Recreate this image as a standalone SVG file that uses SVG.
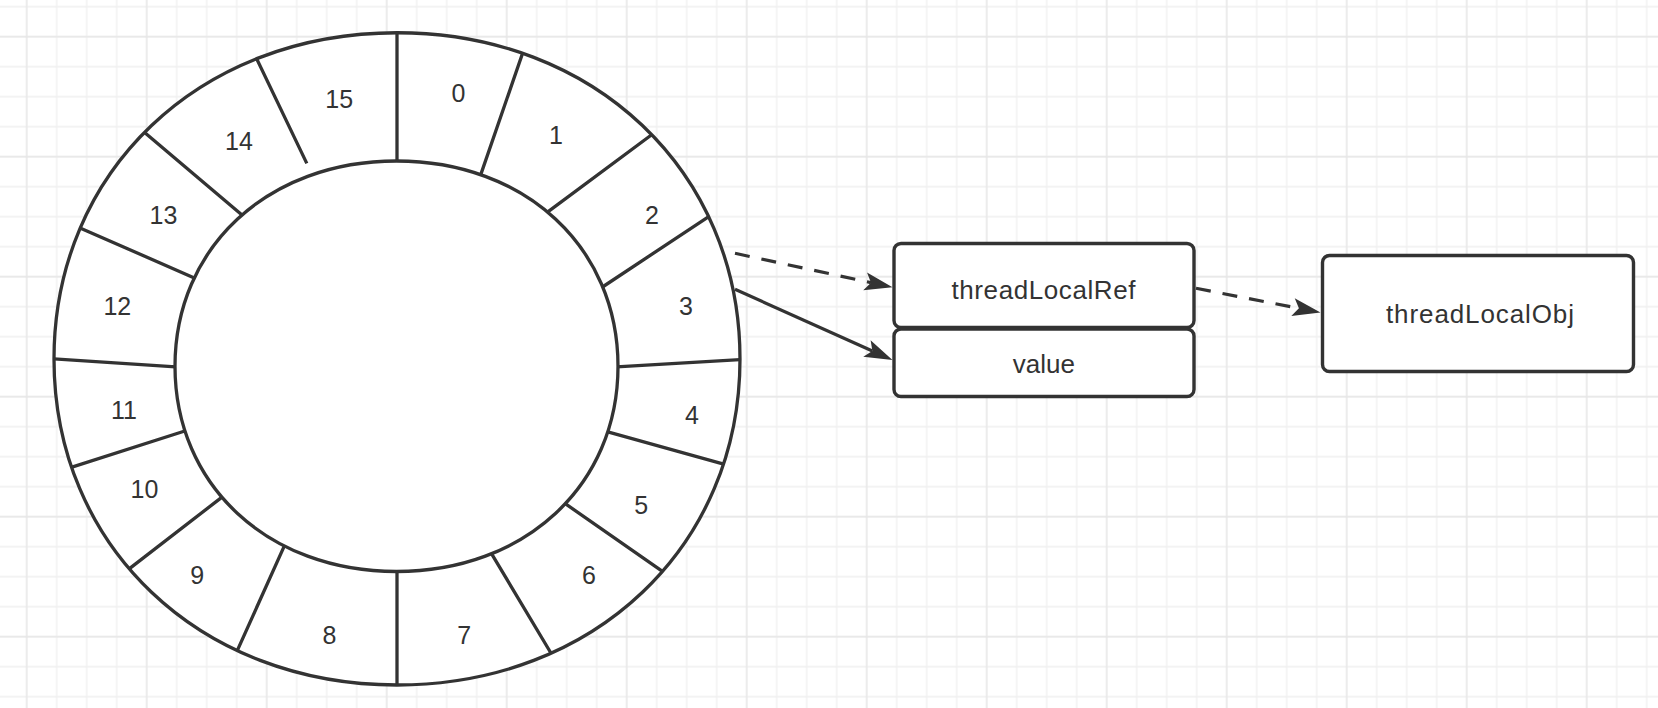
<svg xmlns="http://www.w3.org/2000/svg" width="1658" height="708" viewBox="0 0 1658 708">
<style>
.ln{fill:none;stroke:#333333;stroke-width:3.3;stroke-linecap:butt}
.shape{fill:#ffffff;stroke:#333333;stroke-width:3.3}
.num{font-family:"Liberation Sans",Arial,Helvetica,sans-serif;font-size:25px;fill:#333333;text-anchor:middle}
.lbl{font-family:"Liberation Sans",Arial,Helvetica,sans-serif;font-size:26px;fill:#333333;text-anchor:middle}
.box{fill:#ffffff;stroke:#333333;stroke-width:3.4}
.con{fill:none;stroke:#333333;stroke-width:3.2}
.dash{stroke-dasharray:15 12}
</style>
<defs>
<pattern id="grid" patternUnits="userSpaceOnUse" x="11.7" y="21.7" width="120" height="120">
<path d="M15 0V120M45 0V120M75 0V120M105 0V120M0 15H120M0 45H120M0 75H120M0 105H120" stroke="#f0f0f0" stroke-width="1.3" fill="none"/>
<path d="M15 0V120M0 15H120" stroke="#e6e6e6" stroke-width="1.3" fill="none"/>
</pattern>
<marker id="arrow" markerUnits="userSpaceOnUse" orient="auto" markerWidth="40" markerHeight="40" refX="0" refY="0" viewBox="-10 -20 40 40" overflow="visible">
<path d="M22,0 L-6,-9 L0,0 L-6,9 Z" fill="#333333" stroke="none"/>
</marker>
<clipPath id="outerClip">
<path d="M397,32.75 C594.2,32.75 740,171.4 740,358.9 C740,546.4 594.2,685 397,685 C199.8,685 54,546.4 54,358.9 C54,171.4 199.8,32.75 397,32.75 Z"/>
</clipPath>
</defs>
<rect x="0" y="0" width="1658" height="708" fill="#ffffff"/>
<rect x="0" y="0" width="1658" height="708" fill="url(#grid)"/>

<g id="ring">
<path d="M397,32.75 C594.2,32.75 740,171.4 740,358.9 C740,546.4 594.2,685 397,685 C199.8,685 54,546.4 54,358.9 C54,171.4 199.8,32.75 397,32.75 Z" fill="#ffffff" stroke="none"/>
<g clip-path="url(#outerClip)">
<path class="ln" d="M397,25 L397,164
M524.6,47.4 L479.9,177.1
M658.4,129.7 L546.8,212.6
M714.4,212.8 L602.5,287
M744.8,359.3 L616.5,366.8
M730,465.8 L606.9,431.7
M670.7,577.1 L565.6,503.9
M553.3,657 L491.5,553.6
M397,568 L397,693
M234.2,657.4 L284.8,544.9
M124.6,572.4 L222,497.1
M65.7,469.1 L185.6,430.8
M47,358.5 L175.7,366.9
M73.7,225.2 L196.6,278.9
M139.3,128 L243.2,215.9
M253.4,51.9 L306.8,163.4"/>
</g>
<path class="shape" d="M396.5,161 C525,161 618,247.25 618,366.25 C618,485.25 525,571.5 396.5,571.5 C268,571.5 175,485.25 175,366.25 C175,247.25 268,161 396.5,161 Z"/>
<path class="ln" d="M397,32.75 C594.2,32.75 740,171.4 740,358.9 C740,546.4 594.2,685 397,685 C199.8,685 54,546.4 54,358.9 C54,171.4 199.8,32.75 397,32.75 Z"/>
<text class="num" x="458.5" y="101.5">0</text>
<text class="num" x="556" y="144.4">1</text>
<text class="num" x="652" y="224.4">2</text>
<text class="num" x="686" y="314.6">3</text>
<text class="num" x="692" y="424.3">4</text>
<text class="num" x="641.3" y="513.7">5</text>
<text class="num" x="589" y="583.7">6</text>
<text class="num" x="464.3" y="644">7</text>
<text class="num" x="329.4" y="644">8</text>
<text class="num" x="197.3" y="583.7">9</text>
<text class="num" x="144.4" y="498">10</text>
<text class="num" x="124" y="418.5">11</text>
<text class="num" x="117.3" y="314.6">12</text>
<text class="num" x="163.4" y="224.4">13</text>
<text class="num" x="239" y="150.3">14</text>
<text class="num" x="339.2" y="108.3">15</text>
</g>

<g id="connectors">
<path class="con dash" d="M735,253.3 L871,282.66" marker-end="url(#arrow)"/>
<path class="con" d="M735,289.3 L872.4,350.99" marker-end="url(#arrow)"/>
<path class="con dash" d="M1196,288.3 L1298.9,308.3" marker-end="url(#arrow)"/>
</g>

<g id="threadLocalRef">
<rect class="box" x="894" y="243.5" width="300" height="84" rx="7" ry="7"/>
<text class="lbl" x="1043.5" y="299.3" textLength="184">threadLocalRef</text>
</g>
<g id="value">
<rect class="box" x="894" y="329" width="300" height="67.5" rx="7" ry="7"/>
<text class="lbl" x="1043.8" y="373.3">value</text>
</g>
<g id="threadLocalObj">
<rect class="box" x="1322.5" y="255.5" width="311" height="116" rx="7" ry="7"/>
<text class="lbl" x="1480" y="323.3" textLength="188">threadLocalObj</text>
</g>
</svg>
